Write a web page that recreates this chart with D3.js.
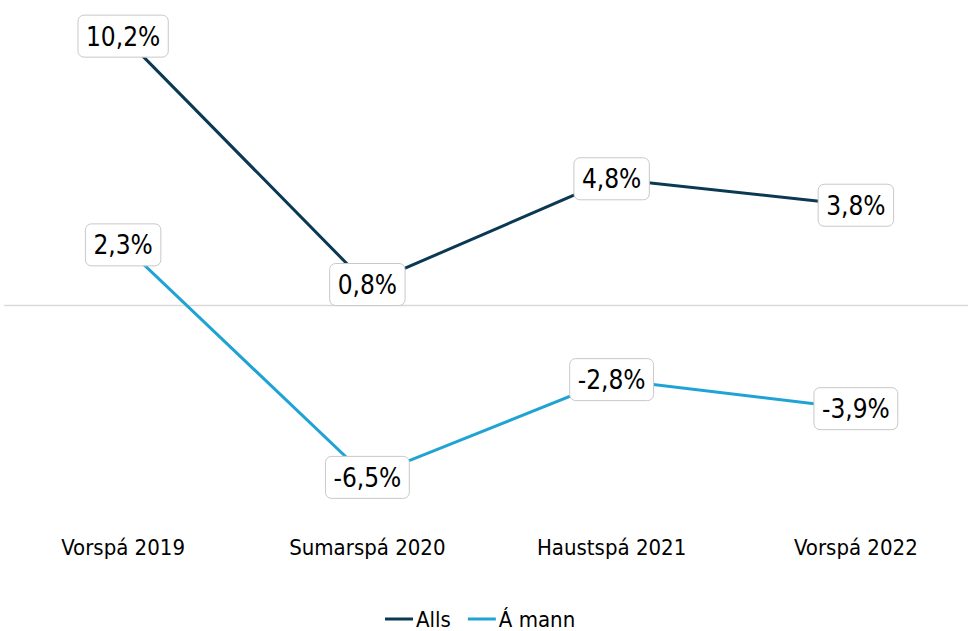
<!DOCTYPE html>
<html>
<head>
<meta charset="utf-8">
<script src="https://cdn.jsdelivr.net/npm/d3@7"></script>
<style>
  body { margin: 0; background: #fff; }
  svg { font-family: "DejaVu Sans Condensed", "DejaVu Sans", sans-serif; }
</style>
</head>
<body>
<div id="chart"></div>
<script>
// categories and series
const categories = ["Vorspá 2019", "Sumarspá 2020", "Haustspá 2021", "Vorspá 2022"];
const allsValues = [10.2, 0.8, 4.8, 3.8];
const amannValues = [2.3, -6.5, -2.8, -3.9];
const seriesNames = ["Alls", "Á mann"];
const seriesColors = ["#0b3954", "#1fa3d4"];

const width = 968, height = 631;

const svg = d3.select("#chart")
    .append("svg")
    .attr("width", width)
    .attr("height", height);

const x = d3.scalePoint().domain(categories).range([1, 978]).padding(0.5);
const y = d3.scaleLinear().domain([-8, 11]).range([517, 15]);

const fmt = v => v.toFixed(1).replace(".", ",") + "%";

// zero line
svg.append("line")
    .attr("x1", 4).attr("x2", width)
    .attr("y1", Math.round(y(0)) - 0.5).attr("y2", Math.round(y(0)) - 0.5)
    .attr("stroke", "#d9d9d9")
    .attr("stroke-width", 1.5);

// category labels
svg.selectAll(".cat")
    .data(categories)
  .enter().append("text")
    .attr("class", "cat")
    .attr("x", d => x(d))
    .attr("y", 555)
    .attr("text-anchor", "middle")
    .attr("font-size", 22)
    .attr("fill", "#000")
    .text(d => d);

const series = [allsValues, amannValues];
const line = d3.line()
    .x((d, i) => x(categories[i]))
    .y(d => y(d));

series.forEach((vals, s) => {
    svg.append("path")
        .datum(vals)
        .attr("fill", "none")
        .attr("stroke", seriesColors[s])
        .attr("stroke-width", 3)
        .attr("d", line);
});

// data labels
series.forEach(vals => {
    vals.forEach((v, i) => {
        const g = svg.append("g")
            .attr("transform", "translate(" + x(categories[i]) + "," + y(v) + ")");
        const rect = g.append("rect");
        const t = g.append("text")
            .attr("text-anchor", "middle")
            .attr("dy", "0.36em")
            .attr("font-size", 26)
            .attr("fill", "#000")
            .text(fmt(v));
        const w = t.node().getComputedTextLength() + 16;
        const h = 42;
        rect.attr("x", -w / 2).attr("y", -h / 2)
            .attr("width", w).attr("height", h)
            .attr("rx", 6)
            .attr("fill", "#fff")
            .attr("stroke", "#c8c8c8")
            .attr("stroke-width", 1);
    });
});

// legend
const legend = svg.append("g").attr("transform", "translate(385,619)");
let lx = 0;
seriesNames.forEach((name, s) => {
    legend.append("line")
        .attr("x1", lx).attr("x2", lx + 28)
        .attr("y1", 0).attr("y2", 0)
        .attr("stroke", seriesColors[s])
        .attr("stroke-width", 3);
    const t = legend.append("text")
        .attr("x", lx + 31)
        .attr("y", 8)
        .attr("font-size", 22)
        .attr("fill", "#000")
        .text(name);
    lx += 31 + t.node().getComputedTextLength() + 17;
});
</script>
</body>
</html>
